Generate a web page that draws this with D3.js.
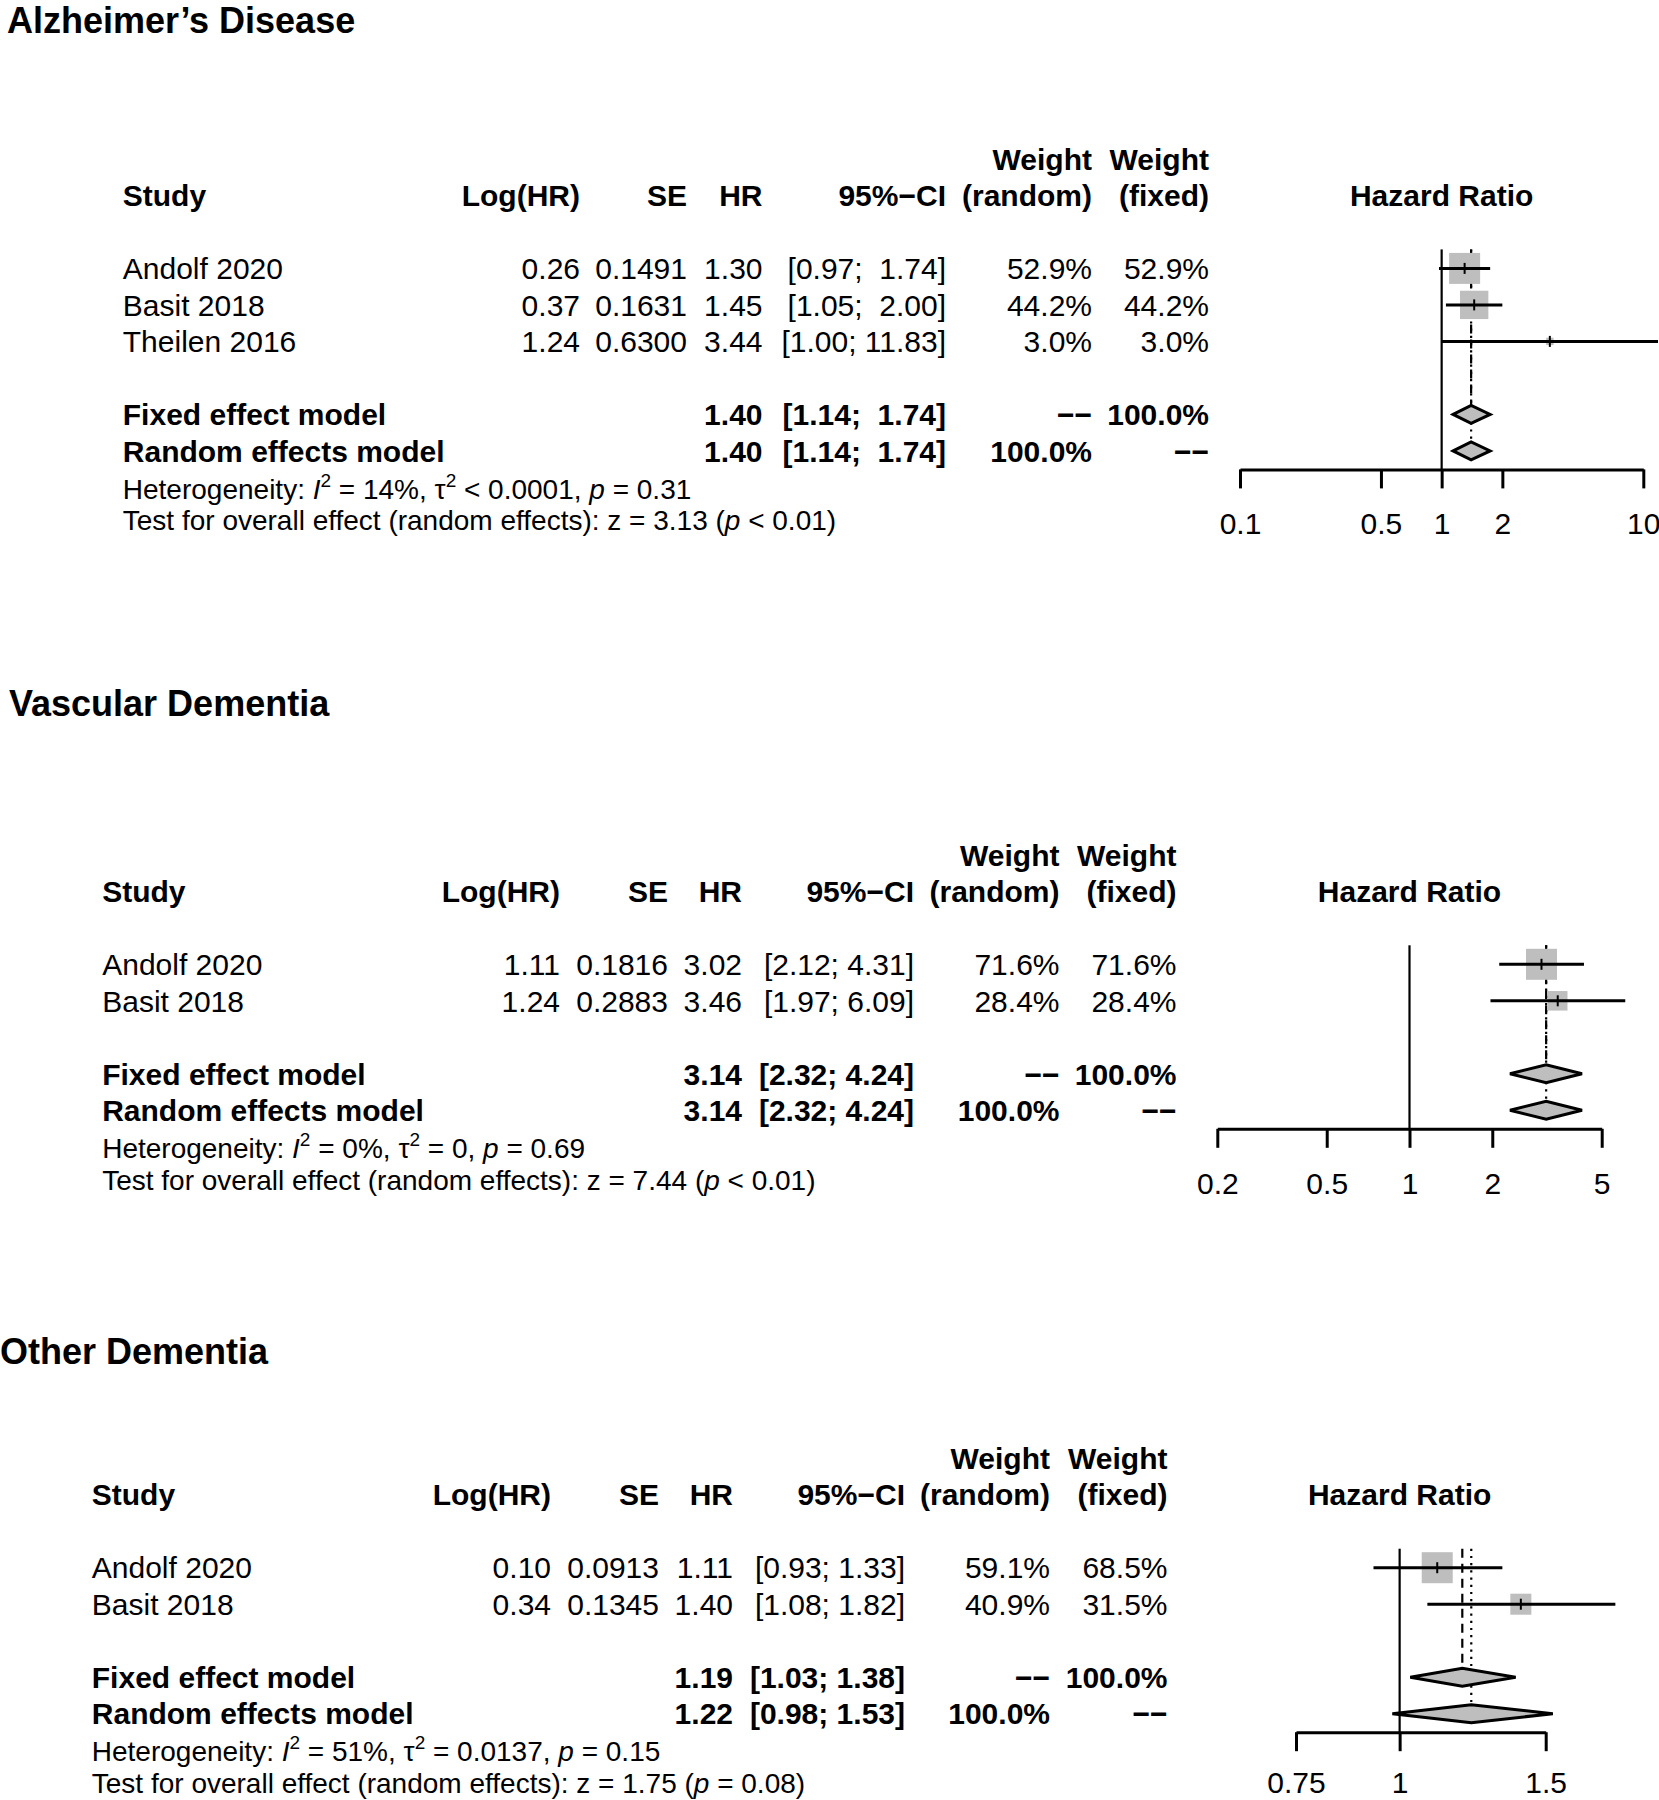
<!DOCTYPE html>
<html><head><meta charset="utf-8">
<script src="https://cdn.jsdelivr.net/npm/d3@7"></script>
<style>
html,body{margin:0;padding:0;background:#fff;}
svg text{font-family:"Liberation Sans",Arial,Helvetica,sans-serif;white-space:pre;fill:#000;}
</style></head>
<body>
<svg id="chart" width="1659" height="1800" xmlns="http://www.w3.org/2000/svg"></svg>
<script>
// ---------------- DATA ----------------
// Alzheimer's Disease
const adTitle = "Alzheimer\u2019s Disease";
const adStudies = ["Andolf 2020", "Basit 2018", "Theilen 2016"];
const adLogHR = [0.26, 0.37, 1.24];
const adSE = [0.1491, 0.1631, 0.6300];
const adHR = [1.30, 1.45, 3.44];
const adLower = [0.97, 1.05, 1.00];
const adUpper = [1.74, 2.00, 11.83];
const adWRandom = [52.9, 44.2, 3.0];
const adWFixed = [52.9, 44.2, 3.0];
const adFixed = [1.40, 1.14, 1.74];   // HR, lower, upper
const adRandom = [1.40, 1.14, 1.74];
const adHet = ["14%", "< 0.0001", "= 0.31"];  // I2, tau2, p
const adTest = ["3.13", "< 0.01"];
const adTicks = [0.1, 0.5, 1, 2, 10];

// Vascular Dementia
const vdTitle = "Vascular Dementia";
const vdStudies = ["Andolf 2020", "Basit 2018"];
const vdLogHR = [1.11, 1.24];
const vdSE = [0.1816, 0.2883];
const vdHR = [3.02, 3.46];
const vdLower = [2.12, 1.97];
const vdUpper = [4.31, 6.09];
const vdWRandom = [71.6, 28.4];
const vdWFixed = [71.6, 28.4];
const vdFixed = [3.14, 2.32, 4.24];
const vdRandom = [3.14, 2.32, 4.24];
const vdHet = ["0%", "= 0", "= 0.69"];
const vdTest = ["7.44", "< 0.01"];
const vdTicks = [0.2, 0.5, 1, 2, 5];

// Other Dementia
const odTitle = "Other Dementia";
const odStudies = ["Andolf 2020", "Basit 2018"];
const odLogHR = [0.10, 0.34];
const odSE = [0.0913, 0.1345];
const odHR = [1.11, 1.40];
const odLower = [0.93, 1.08];
const odUpper = [1.33, 1.82];
const odWRandom = [59.1, 40.9];
const odWFixed = [68.5, 31.5];
const odFixed = [1.19, 1.03, 1.38];
const odRandom = [1.22, 0.98, 1.53];
const odHet = ["51%", "= 0.0137", "= 0.15"];
const odTest = ["1.75", "= 0.08"];
const odTicks = [0.75, 1, 1.5];

// ---------------- LAYOUT ----------------
const panels = [
  { data: {title: adTitle, studies: adStudies, logHR: adLogHR, se: adSE, hr: adHR, lo: adLower, up: adUpper,
            wr: adWRandom, wf: adWFixed, fixed: adFixed, random: adRandom, het: adHet, test: adTest, ticks: adTicks},
    titleX: 7, titleY: 33, row0: 158.9, fixedRow: 7, randomRow: 8, pad: 24.5,
    cols: {study: 122.8, logHR: 580, se: 687, hr: 762.5, ci: 946, wr: 1092, wf: 1209},
    range: [1240, 1643.3] },
  { data: {title: vdTitle, studies: vdStudies, logHR: vdLogHR, se: vdSE, hr: vdHR, lo: vdLower, up: vdUpper,
            wr: vdWRandom, wf: vdWFixed, fixed: vdFixed, random: vdRandom, het: vdHet, test: vdTest, ticks: vdTicks},
    titleX: 9, titleY: 715.6, row0: 854.8, fixedRow: 6, randomRow: 7, pad: 24.5,
    cols: {study: 102.2, logHR: 560, se: 668, hr: 742, ci: 914, wr: 1059.5, wf: 1176.5},
    range: [1217.3, 1601.7] },
  { data: {title: odTitle, studies: odStudies, logHR: odLogHR, se: odSE, hr: odHR, lo: odLower, up: odUpper,
            wr: odWRandom, wf: odWFixed, fixed: odFixed, random: odRandom, het: odHet, test: odTest, ticks: odTicks},
    titleX: 0, titleY: 1364, row0: 1458.2, fixedRow: 6, randomRow: 7, pad: 20.5,
    cols: {study: 91.8, logHR: 551, se: 659, hr: 733, ci: 905, wr: 1050, wf: 1167.5},
    range: [1296, 1545.7] }
];

const ROWH = 36.5, FS = 30, FS_SMALL = 28, BASE = 10.7;
const BOX = 31, DIAM_H = 9;
const GRAY = "#bebebe";
const DASHES = "\u2212\u2212";

const svg = d3.select("#chart");
svg.append("rect").attr("width", 1659).attr("height", 1800).attr("fill", "#fff");

const f2 = d3.format(".2f"), f4 = d3.format(".4f"), f1 = d3.format(".1f");

function drawPanel(p) {
  const d = p.data;
  const g = svg.append("g");
  const y = d3.scaleLinear().domain([0, 1]).range([p.row0, p.row0 + ROWH]);
  const x = d3.scaleLog().domain([d.ticks[0], d.ticks[d.ticks.length - 1]]).range(p.range);
  const studyRow = i => 3 + i;

  // Title
  g.append("text").attr("x", p.titleX).attr("y", p.titleY)
    .attr("font-size", 36).attr("font-weight", "bold").text(d.title);

  const txt = (xx, row, s, anchor, bold) =>
    g.append("text").attr("x", xx).attr("y", y(row) + BASE)
      .attr("font-size", FS).attr("font-weight", bold ? "bold" : "normal")
      .attr("text-anchor", anchor).text(s);

  const c = p.cols;
  // Header
  txt(c.wr, 0, "Weight", "end", true);
  txt(c.wf, 0, "Weight", "end", true);
  txt(c.study, 1, "Study", "start", true);
  txt(c.logHR, 1, "Log(HR)", "end", true);
  txt(c.se, 1, "SE", "end", true);
  txt(c.hr, 1, "HR", "end", true);
  txt(c.ci, 1, "95%\u2212CI", "end", true);
  txt(c.wr, 1, "(random)", "end", true);
  txt(c.wf, 1, "(fixed)", "end", true);
  txt(x(1), 1, "Hazard Ratio", "middle", true);

  // CI strings padded like R formatC
  const los = d.lo.map(f2).concat([f2(d.fixed[1]), f2(d.random[1])]);
  const ups = d.up.map(f2).concat([f2(d.fixed[2]), f2(d.random[2])]);
  const wl = d3.max(los, s => s.length), wu = d3.max(ups, s => s.length);
  const ciStr = (lo, up) => "[" + f2(lo).padStart(wl, " ") + "; " + f2(up).padStart(wu, " ") + "]";

  d.studies.forEach((s, i) => {
    const r = studyRow(i);
    txt(c.study, r, s, "start", false);
    txt(c.logHR, r, f2(d.logHR[i]), "end", false);
    txt(c.se, r, f4(d.se[i]), "end", false);
    txt(c.hr, r, f2(d.hr[i]), "end", false);
    txt(c.ci, r, ciStr(d.lo[i], d.up[i]), "end", false);
    txt(c.wr, r, f1(d.wr[i]) + "%", "end", false);
    txt(c.wf, r, f1(d.wf[i]) + "%", "end", false);
  });
  // pooled rows
  txt(c.study, p.fixedRow, "Fixed effect model", "start", true);
  txt(c.hr, p.fixedRow, f2(d.fixed[0]), "end", true);
  txt(c.ci, p.fixedRow, ciStr(d.fixed[1], d.fixed[2]), "end", true);
  txt(c.wr, p.fixedRow, DASHES, "end", true);
  txt(c.wf, p.fixedRow, "100.0%", "end", true);
  txt(c.study, p.randomRow, "Random effects model", "start", true);
  txt(c.hr, p.randomRow, f2(d.random[0]), "end", true);
  txt(c.ci, p.randomRow, ciStr(d.random[1], d.random[2]), "end", true);
  txt(c.wr, p.randomRow, "100.0%", "end", true);
  txt(c.wf, p.randomRow, DASHES, "end", true);

  // Heterogeneity and test lines
  const yR = y(p.randomRow);
  const het = g.append("text").attr("x", c.study).attr("y", yR + 47.6).attr("font-size", FS_SMALL);
  het.append("tspan").text("Heterogeneity: ");
  het.append("tspan").attr("font-style", "italic").text("I");
  het.append("tspan").attr("font-size", 19).attr("dy", -12).text("2");
  het.append("tspan").attr("dy", 12).text(" = " + d.het[0] + ", \u03C4");
  het.append("tspan").attr("font-size", 19).attr("dy", -12).text("2");
  het.append("tspan").attr("dy", 12).text(" " + d.het[1] + ", ");
  het.append("tspan").attr("font-style", "italic").text("p");
  het.append("tspan").text(" " + d.het[2]);

  const tst = g.append("text").attr("x", c.study).attr("y", yR + 79.3).attr("font-size", FS_SMALL);
  tst.append("tspan").text("Test for overall effect (random effects): z = " + d.test[0] + " (");
  tst.append("tspan").attr("font-style", "italic").text("p");
  tst.append("tspan").text(" " + d.test[1] + ")");

  // Plot
  const axisY = yR + 18.5;
  const topY = y(studyRow(0)) - 19;
  const pg = g.append("g");

  // reference line
  pg.append("line").attr("x1", x(1)).attr("x2", x(1)).attr("y1", topY).attr("y2", axisY)
    .attr("stroke", "#000").attr("stroke-width", 2.2);
  // pooled lines (fixed: dashed, random: dotted)
  pg.append("line").attr("x1", x(d.fixed[0])).attr("x2", x(d.fixed[0]))
    .attr("y1", topY).attr("y2", y(p.fixedRow) - DIAM_H)
    .attr("stroke", "#000").attr("stroke-width", 2.2).attr("stroke-dasharray", "9,6");
  pg.append("line").attr("x1", x(d.random[0])).attr("x2", x(d.random[0]))
    .attr("y1", topY).attr("y2", y(p.randomRow) - DIAM_H)
    .attr("stroke", "#000").attr("stroke-width", 2.2).attr("stroke-dasharray", "2.2,5");

  const wmax = d3.max(d.wf);
  const size = d3.scaleSqrt().domain([0, wmax]).range([0, BOX]);
  d.studies.forEach((s, i) => {
    const yy = y(studyRow(i));
    const side = size(d.wf[i]);
    pg.append("rect").attr("x", x(d.hr[i]) - side / 2).attr("y", yy - side / 2)
      .attr("width", side).attr("height", side).attr("fill", GRAY);
    pg.append("line").attr("x1", x(d.lo[i])).attr("x2", x(d.up[i])).attr("y1", yy).attr("y2", yy)
      .attr("stroke", "#000").attr("stroke-width", 3);
    pg.append("line").attr("x1", x(d.hr[i])).attr("x2", x(d.hr[i])).attr("y1", yy - 5.5).attr("y2", yy + 5.5)
      .attr("stroke", "#000").attr("stroke-width", 2);
  });

  [[d.fixed, p.fixedRow], [d.random, p.randomRow]].forEach(([m, r]) => {
    const yy = y(r);
    const pts = [[x(m[1]), yy], [x(m[0]), yy - DIAM_H], [x(m[2]), yy], [x(m[0]), yy + DIAM_H]];
    pg.append("polygon").attr("points", pts.map(q => q.join(",")).join(" "))
      .attr("fill", GRAY).attr("stroke", "#000").attr("stroke-width", 3).attr("stroke-linejoin", "miter");
  });

  // axis
  const axis = d3.axisBottom(x).tickValues(d.ticks).tickFormat(v => String(v))
    .tickSize(19).tickSizeOuter(0).tickPadding(p.pad);
  const ag = g.append("g").attr("transform", "translate(0," + axisY + ")").call(axis);
  ag.select(".domain").attr("stroke", "#000").attr("stroke-width", 3);
  ag.selectAll(".tick line").attr("stroke", "#000").attr("stroke-width", 3);
  ag.selectAll(".tick text").attr("font-size", FS).attr("fill", "#000")
    .attr("font-family", "\"Liberation Sans\",Arial,sans-serif");
}

panels.forEach(drawPanel);
</script>
</body></html>
